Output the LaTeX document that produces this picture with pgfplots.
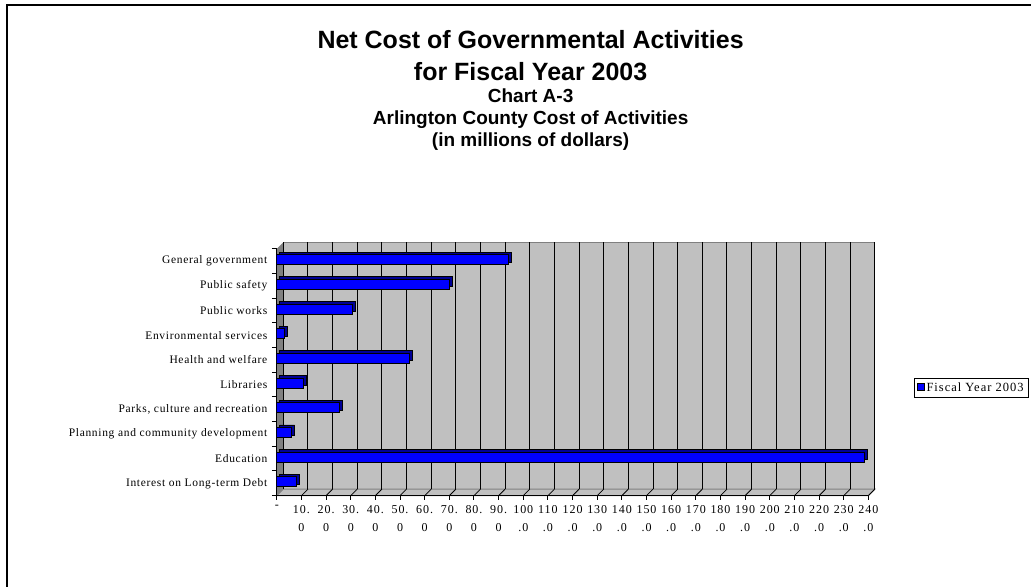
\documentclass[border=0pt]{standalone}
\usepackage{fontspec}
\setmainfont{Liberation Serif}
\newfontfamily\titlefont{Liberation Sans}
\newfontfamily\lbl[LetterSpace=6]{Liberation Serif}
\newfontfamily\tlbl[LetterSpace=8]{Liberation Serif}
\usepackage{pgfplots}
\pgfplotsset{compat=1.18}
\definecolor{wallgray}{RGB}{192,192,192}
\definecolor{darkwall}{RGB}{128,128,128}
\definecolor{barblue}{RGB}{0,0,255}
\definecolor{bardark}{RGB}{0,0,150}
\begin{document}
\begin{tikzpicture}[x=1pt,y=1pt]
\path (0,0) rectangle (1032,587);
% frame (left and top edges visible)
\draw[line width=1.5pt] (7,0) -- (7,582) -- (1032,582);
% titles
\node[anchor=base,font=\titlefont\bfseries\fontsize{25}{30}\selectfont] at (531,587-49) {Net Cost of Governmental Activities};
\node[anchor=base,font=\titlefont\bfseries\fontsize{25}{30}\selectfont] at (531,587-81) {for Fiscal Year 2003};
\node[anchor=base,font=\titlefont\bfseries\fontsize{19}{23}\selectfont] at (531,587-103) {Chart A-3};
\node[anchor=base,font=\titlefont\bfseries\fontsize{19}{23}\selectfont] at (531,587-125) {Arlington County Cost of Activities};
\node[anchor=base,font=\titlefont\bfseries\fontsize{19}{23}\selectfont] at (531,587-147) {(in millions of dollars)};
\begin{axis}[
  at={(277pt,91pt)}, anchor=south west,
  scale only axis, width=592pt, height=247pt,
  xmin=0, xmax=240, ymin=0.5, ymax=10.5, y dir=reverse,
  axis x line*=bottom, axis y line*=left,
  axis line style={black, line width=1pt},
  tick align=outside,
  xtick={0,10,...,240},
  xticklabels={-,{10.\\0},{20.\\0},{30.\\0},{40.\\0},{50.\\0},{60.\\0},{70.\\0},{80.\\0},{90.\\0},{100\\.0},{110\\.0},{120\\.0},{130\\.0},{140\\.0},{150\\.0},{160\\.0},{170\\.0},{180\\.0},{190\\.0},{200\\.0},{210\\.0},{220\\.0},{230\\.0},{240\\.0}},
  x tick label style={font=\tlbl\fontsize{12}{18}\selectfont, align=center, anchor=north, yshift=-2pt},
  ytick={1,...,10},
  yticklabels={General government,Public safety,Public works,Environmental services,Health and welfare,Libraries,{Parks, culture and recreation},Planning and community development,Education,Interest on Long-term Debt},
  y tick label style={font=\lbl\fontsize{11.5}{14}\selectfont, xshift=-2pt},
  ytick style={draw=none},
  extra y ticks={0.5,1.5,...,10.5},
  extra y tick labels={},
  extra y tick style={ytick style={draw=black, line width=1pt}, major tick length=5pt},
  xtick style={draw=black, line width=1pt},
  major tick length=4pt,
  xmajorgrids,
  major grid style={draw=black, line width=1pt, xshift=6.5pt, yshift=6.5pt},
  xbar, bar width=10pt,
  legend style={at={(1.2713,0.437)}, anchor=east, draw=black, line width=0.6pt,
    font=\tlbl\fontsize{12.5}{14}\selectfont, inner xsep=3pt, inner ysep=2.5pt,
    legend cell align=left},
  legend image code/.code={\draw[fill=barblue,draw=black,line width=0.5pt] (0pt,-3.5pt) rectangle (7pt,3.5pt);},
  set layers,
]
\begin{pgfonlayer}{axis background}
  \fill[wallgray,draw=darkwall,line width=1pt] ([shift={(6.5pt,6.5pt)}]axis cs:0,0.5) rectangle ([shift={(6.5pt,6.5pt)}]axis cs:240,10.5);
  \fill[darkwall] (axis cs:0,0.5) -- ([shift={(6.5pt,6.5pt)}]axis cs:0,0.5) -- ([shift={(6.5pt,6.5pt)}]axis cs:0,10.5) -- (axis cs:0,10.5) -- cycle;
  \fill[wallgray,draw=darkwall,line width=1pt] (axis cs:0,10.5) -- (axis cs:240,10.5) -- ([shift={(6.5pt,6.5pt)}]axis cs:240,10.5) -- ([shift={(6.5pt,6.5pt)}]axis cs:0,10.5) -- cycle;
  \pgfplotsinvokeforeach{10,20,...,240}{
    \draw[black, line width=0.8pt] (axis cs:#1,10.5) -- ([shift={(6.5pt,6.5pt)}]axis cs:#1,10.5);
  }
\end{pgfonlayer}
\addplot[forget plot, fill=bardark, draw=black, line width=0.8pt, xshift=3pt, yshift=4pt] coordinates {
 (94.0,1) (70.0,2) (30.5,3) (3.0,4) (53.8,5) (10.9,6) (25.4,7) (6.0,8) (238.5,9) (7.8,10)};
\addplot[fill=barblue, draw=black, line width=0.8pt, yshift=1.5pt] coordinates {
 (94.0,1) (70.0,2) (30.5,3) (3.0,4) (53.8,5) (10.9,6) (25.4,7) (6.0,8) (238.5,9) (7.8,10)};
\addlegendentry{Fiscal Year 2003}
\end{axis}
\end{tikzpicture}
\end{document}
